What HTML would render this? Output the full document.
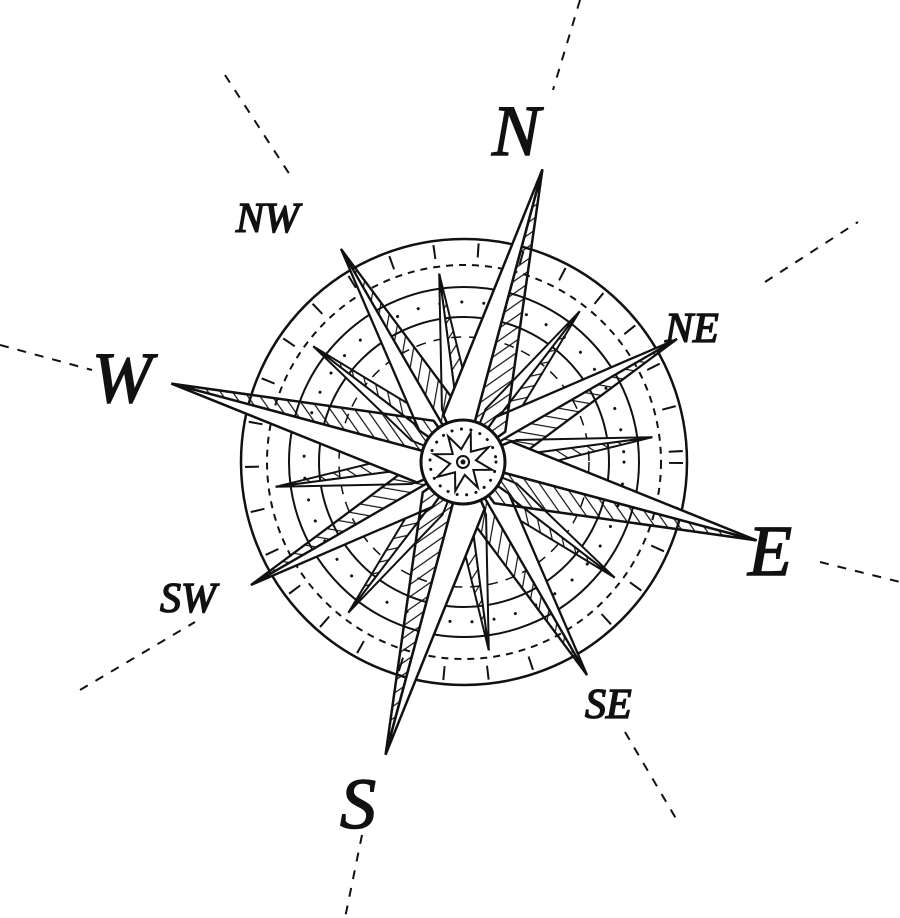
<!DOCTYPE html>
<html><head><meta charset="utf-8"><style>
html,body{margin:0;padding:0;background:#fff;}
svg{display:block}
text{font-family:"Liberation Serif",serif;font-style:italic;fill:#111;stroke:#111;stroke-width:1.5}
</style></head><body>
<svg width="900" height="918" viewBox="0 0 900 918" xmlns="http://www.w3.org/2000/svg">
<defs>
<pattern id="h" width="10" height="10" patternUnits="userSpaceOnUse" patternTransform="rotate(40)">
<line x1="0" y1="0" x2="0" y2="10" stroke="#111" stroke-width="2.4"/>
</pattern>
<g id="main">
<polygon points="0,-303 32,-40 0,0" fill="url(#h)" stroke="#111" stroke-width="2.5"/>
<polygon points="0,-303 -32,-40 0,0" fill="#fff" stroke="#111" stroke-width="2.5"/>
</g>
<g id="diag">
<polygon points="0,-246 23,-50 0,0" fill="url(#h)" stroke="#111" stroke-width="2.3"/>
<polygon points="0,-246 -23,-50 0,0" fill="#fff" stroke="#111" stroke-width="2.3"/>
</g>
<g id="sec">
<polygon points="0,-190 15,-55 0,0" fill="url(#h)" stroke="#111" stroke-width="2"/>
<polygon points="0,-190 -15,-55 0,0" fill="#fff" stroke="#111" stroke-width="2"/>
</g>
</defs>
<g stroke="#111" stroke-width="2" stroke-dasharray="9,9" fill="none">
<line x1="580" y1="0" x2="553" y2="90"/>
<line x1="0" y1="345" x2="92" y2="370"/>
<line x1="820" y1="562" x2="900" y2="582"/>
<line x1="362" y1="835" x2="345" y2="918"/>
<line x1="225" y1="75" x2="292" y2="178"/>
<line x1="765" y1="282" x2="858" y2="222"/>
<line x1="625" y1="732" x2="678" y2="822"/>
<line x1="80" y1="690" x2="195" y2="622"/>
</g>
<g transform="translate(464,462)" fill="none" stroke="#111">
<circle r="223" stroke-width="2.5"/>
<circle r="197" stroke-width="2" stroke-dasharray="7,6"/>
<circle r="175" stroke-width="2"/>
<circle r="160" stroke-width="3" stroke-dasharray="0.1,22" stroke-linecap="round"/>
<circle r="145" stroke-width="2"/>
<circle r="125" stroke-width="1.5" stroke-dasharray="10,8"/>
<circle r="212" stroke-width="14" stroke-dasharray="2,42"/>
</g>
<g transform="translate(464,462) rotate(15)">
<use href="#sec" transform="rotate(22.5)"/>
<use href="#sec" transform="rotate(67.5)"/>
<use href="#sec" transform="rotate(112.5)"/>
<use href="#sec" transform="rotate(157.5)"/>
<use href="#sec" transform="rotate(202.5)"/>
<use href="#sec" transform="rotate(247.5)"/>
<use href="#sec" transform="rotate(292.5)"/>
<use href="#sec" transform="rotate(337.5)"/>
<use href="#diag" transform="rotate(45)"/>
<use href="#diag" transform="rotate(135)"/>
<use href="#diag" transform="rotate(225)"/>
<use href="#diag" transform="rotate(315)"/>
<use href="#main"/>
<use href="#main" transform="rotate(90)"/>
<use href="#main" transform="rotate(180)"/>
<use href="#main" transform="rotate(270)"/>
</g>
<g transform="translate(463,462)">
<circle r="42" fill="#fff" stroke="#111" stroke-width="3"/>
<circle r="33" fill="none" stroke="#111" stroke-width="3" stroke-dasharray="0.1,9.5" stroke-linecap="round"/>
<polygon points="0,-30 5,-12 21,-21 12,-5 30,0 12,5 21,21 5,12 0,30 -5,12 -21,21 -12,5 -30,0 -12,-5 -21,-21 -5,-12" fill="#fff" stroke="#111" stroke-width="2" transform="rotate(15)"/>
<circle r="6" fill="#fff" stroke="#111" stroke-width="2"/>
<circle r="2.5" fill="#111"/>
</g>
<text x="492" y="155" font-size="72">N</text>
<text x="92" y="402" font-size="72">W</text>
<text x="748" y="575" font-size="72">E</text>
<text x="340" y="828" font-size="72">S</text>
<text x="236" y="232" font-size="42">NW</text>
<text x="665" y="342" font-size="42">NE</text>
<text x="160" y="612" font-size="42">SW</text>
<text x="585" y="718" font-size="42">SE</text>
</svg>
</body></html>
